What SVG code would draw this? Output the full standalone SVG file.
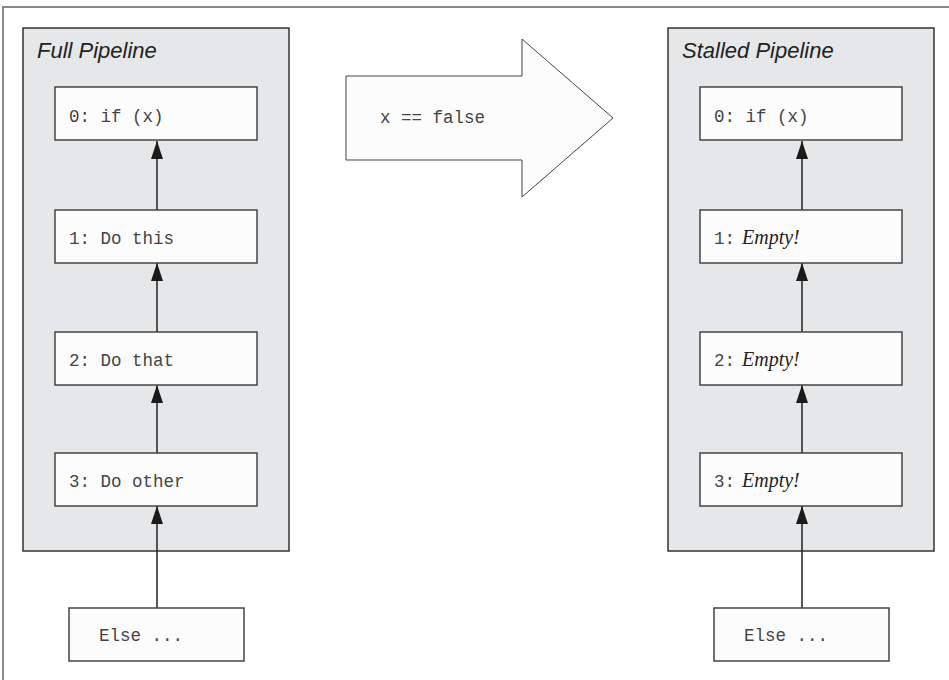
<svg xmlns="http://www.w3.org/2000/svg" width="949" height="680" viewBox="0 0 949 680">
<defs>
<style>
.panel{fill:#e6e7e9;stroke:#333;stroke-width:1.5}
.box{fill:#fcfcfc;stroke:#444;stroke-width:1.5}
.mono{font-family:"Liberation Mono","Courier New",monospace;font-size:17.5px;fill:#444}
.title{font-family:"Liberation Sans",Arial,sans-serif;font-style:italic;font-size:22px;fill:#222}
.empty{font-family:"Liberation Serif","Times New Roman",serif;font-style:italic;font-size:20px;fill:#222}
.conn{stroke:#222;stroke-width:1.5;fill:none;marker-end:url(#ah)}
</style>
<marker id="ah" markerUnits="userSpaceOnUse" markerWidth="18" markerHeight="12" viewBox="0 -6 18 12" refX="18" refY="0" orient="auto">
<path d="M0,-6 L18,0 L0,6 z" fill="#1a1a1a"/>
</marker>
</defs>
<rect width="949" height="680" fill="#ffffff"/>
<path d="M3,680 L3,7 L949,7" fill="none" stroke="#888" stroke-width="2"/>

<g id="full-pipeline">
<rect class="panel" x="23" y="28" width="266" height="523"/>
<text class="title" x="37" y="58">Full Pipeline</text>
</g>
<g id="stalled-pipeline">
<rect class="panel" x="668" y="28" width="266" height="523"/>
<text class="title" x="682" y="58">Stalled Pipeline</text>
</g>

<g id="transition">
<polygon points="346,76 522,76 522,39 613,118 522,197 522,160 346,160" fill="#fcfcfc" stroke="#444" stroke-width="1"/>
<text class="mono" x="380" y="123">x == false</text>
</g>

<g id="connectors">
<line class="conn" x1="157" y1="210" x2="157" y2="141"/>
<line class="conn" x1="157" y1="332" x2="157" y2="263"/>
<line class="conn" x1="157" y1="453" x2="157" y2="385"/>
<line class="conn" x1="157" y1="608" x2="157" y2="506"/>
<line class="conn" x1="802" y1="210" x2="802" y2="141"/>
<line class="conn" x1="802" y1="332" x2="802" y2="263"/>
<line class="conn" x1="802" y1="453" x2="802" y2="385"/>
<line class="conn" x1="802" y1="608" x2="802" y2="506"/>
</g>

<g id="l0"><rect class="box" x="55" y="87" width="202" height="53"/><text class="mono" x="69" y="122">0: if (x)</text></g>
<g id="l1"><rect class="box" x="55" y="210" width="202" height="53"/><text class="mono" x="69" y="244">1: Do this</text></g>
<g id="l2"><rect class="box" x="55" y="332" width="202" height="53"/><text class="mono" x="69" y="366">2: Do that</text></g>
<g id="l3"><rect class="box" x="55" y="453" width="202" height="53"/><text class="mono" x="69" y="487">3: Do other</text></g>
<g id="l-else"><rect class="box" x="69" y="608" width="175" height="53"/><text class="mono" x="99" y="641">Else ...</text></g>

<g id="r0"><rect class="box" x="700" y="87" width="202" height="53"/><text class="mono" x="714" y="122">0: if (x)</text></g>
<g id="r1"><rect class="box" x="700" y="210" width="202" height="53"/><text class="mono" x="714" y="244">1:</text><text class="empty" x="742" y="244">Empty!</text></g>
<g id="r2"><rect class="box" x="700" y="332" width="202" height="53"/><text class="mono" x="714" y="366">2:</text><text class="empty" x="742" y="366">Empty!</text></g>
<g id="r3"><rect class="box" x="700" y="453" width="202" height="53"/><text class="mono" x="714" y="487">3:</text><text class="empty" x="742" y="487">Empty!</text></g>
<g id="r-else"><rect class="box" x="714" y="608" width="175" height="53"/><text class="mono" x="744" y="641">Else ...</text></g>
</svg>
